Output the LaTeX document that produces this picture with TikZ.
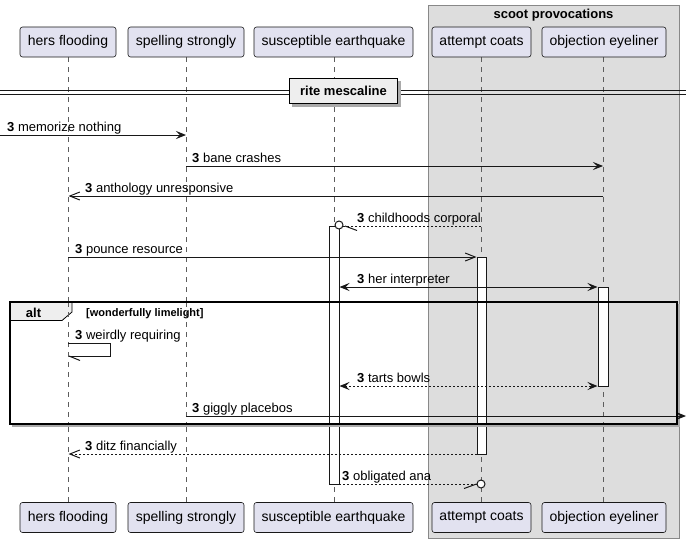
\documentclass[tikz,border=0pt]{standalone}
\usepackage{fontspec}
\setmainfont{Liberation Sans}
\usetikzlibrary{arrows.meta}
\definecolor{partfill}{HTML}{E2E2F0}
\definecolor{ink}{HTML}{181818}
\definecolor{grpfill}{HTML}{DDDDDD}
\definecolor{grpline}{HTML}{888888}
\definecolor{tabfill}{HTML}{EEEEEE}
\definecolor{shadowc}{HTML}{AAAAAA}
\tikzset{
  part/.style={draw=ink, fill=partfill, rounded corners=2.5pt, line width=0.6pt,
    minimum height=30pt, inner sep=0pt, font=\fontsize{14}{16}\selectfont},
  life/.style={draw=ink!70, line width=0.6pt, dash pattern=on 5pt off 5pt},
  actbar/.style={draw=ink, fill=white, line width=1pt},
  msg/.style={draw=ink, line width=1pt},
  dmsg/.style={draw=ink, line width=1pt, dash pattern=on 2pt off 2pt},
  fhead/.style={-{Stealth[length=10pt,width=8pt,inset=4pt]}},
  fboth/.style={{Stealth[length=10pt,width=8pt,inset=4pt]}-{Stealth[length=10pt,width=8pt,inset=4pt]}},
  ohead/.style={-{Straight Barb[length=10pt,width=8pt,line width=1pt]}},
  lbl/.style={anchor=base west, inner sep=0pt, font=\fontsize{13}{15}\selectfont},
}
\newcommand{\ml}[1]{\textbf{3} #1}
\begin{document}
\begin{tikzpicture}[x=1pt,y=-1pt]
\useasboundingbox (0,0) rectangle (692,543);
% group box
\path[draw=grpline, fill=grpfill, line width=0.8pt] (428,5) rectangle (679,538);
\node[font=\bfseries\fontsize{13}{15}\selectfont, anchor=base] (gtitle) at (553.5,19) {scoot provocations};
% lifeline coordinates
\coordinate (Ax) at (68,0);
\coordinate (Bx) at (186,0);
\coordinate (Cx) at (334,0);
\coordinate (Dx) at (481,0);
\coordinate (Ex) at (603,0);
% lifelines
\foreach \n/\x in {A/68,B/186,C/334,D/481,E/603}{
  \coordinate (\n top) at (\x,57);
  \coordinate (\n bot) at (\x,502);
  \draw[life] (\n top) -- (\n bot);
}
% participants
\node[part, minimum width=96pt] (Ah) at (68,42) {hers flooding};
\node[part, minimum width=116pt] (Bh) at (186,42) {spelling strongly};
\node[part, minimum width=159pt] (Ch) at (333.5,42) {susceptible earthquake};
\node[part, minimum width=99pt] (Dh) at (481.5,42) {attempt coats};
\node[part, minimum width=124pt] (Eh) at (604,42) {objection eyeliner};
\node[part, minimum width=96pt] (Af) at (68,517.5) {hers flooding};
\node[part, minimum width=116pt] (Bf) at (186,517.5) {spelling strongly};
\node[part, minimum width=159pt] (Cf) at (333.5,517.5) {susceptible earthquake};
\node[part, minimum width=99pt] (Df) at (481.5,517.5) {attempt coats};
\node[part, minimum width=124pt] (Ef) at (604,517.5) {objection eyeliner};
% divider
\coordinate (dvL) at (0,92);
\coordinate (dvR) at (686,92);
\draw[ink, line width=1pt] (0,90) -- (289,90) (0,94) -- (289,94);
\draw[ink, line width=1pt] (398,90) -- (686,90) (398,94) -- (686,94);
\fill[shadowc] (292,81) rectangle (401,107);
\node[draw=black, fill=tabfill, line width=1.6pt, minimum width=108pt, minimum height=25pt, inner sep=0pt,
  font=\bfseries\fontsize{13}{15}\selectfont] (div) at (343.5,91) {rite mescaline};
% activation bars
\draw[actbar] (329,226) rectangle (339,484);
\draw[actbar] (477,257) rectangle (486,454);
\draw[actbar] (598,287) rectangle (608,386);
% messages
\coordinate (m1s) at (0,135); \coordinate (m1e) at (186,135);
\draw[msg, fhead] (m1s) -- (m1e);
\node[lbl] (l1) at (7,131) {\ml{memorize nothing}};

\coordinate (m2s) at (186,166); \coordinate (m2e) at (603,166);
\draw[msg, fhead] (m2s) -- (m2e);
\node[lbl] (l2) at (192,162) {\ml{bane crashes}};

\coordinate (m3s) at (603,196); \coordinate (m3e) at (68.5,196);
\draw[msg, ohead] (m3s) -- (m3e);
\node[lbl] (l3) at (85,192) {\ml{anthology unresponsive}};

\coordinate (m4s) at (481,226); \coordinate (m4e) at (343,226);
\draw[dmsg] (m4s) -- (m4e);
\draw[ink, line width=1pt, fill=white] (339,225) circle (4pt);
\draw[ink, line width=1pt] (345,226) -- (357,230.5);
\node[lbl] (l4) at (357,222) {\ml{childhoods corporal}};

\coordinate (m5s) at (68,257); \coordinate (m5e) at (476.5,257);
\draw[msg, ohead] (m5s) -- (m5e);
\node[lbl] (l5) at (75,253) {\ml{pounce resource}};

\coordinate (m6s) at (339.5,287); \coordinate (m6e) at (597.5,287);
\draw[msg, fboth] (m6s) -- (m6e);
\node[lbl] (l6) at (357,283) {\ml{her interpreter}};

% alt frame
\fill[shadowc] (12,304) rectangle (680,427);
\fill[white] (12,304) rectangle (677,424);
\path[fill=tabfill] (10,302) -- (72,302) -- (72,312) -- (62,320.5) -- (10,320.5) -- cycle;
\draw[black, line width=0.8pt] (72,302) -- (72,312) -- (62,320.5) -- (10,320.5);
\node[anchor=base, inner sep=0pt, font=\bfseries\fontsize{13}{15}\selectfont] (altl) at (33.5,317) {alt};
\node[anchor=base west, inner sep=0pt, font=\bfseries\fontsize{11}{13}\selectfont] (guard) at (86,316) {[wonderfully limelight]};

% redraw lifelines and bars inside frame area (frame background is white)
\foreach \x in {68,186,334,603}{
  \draw[life] (\x,302) -- (\x,424);
}
\draw[life] (481,302) -- (481,424);
\fill[grpfill] (428,302) rectangle (677,424);
\draw[life] (481,302) -- (481,424);
\draw[life] (603,302) -- (603,424);
\draw[grpline, line width=0.8pt] (428,302) -- (428,424);
\draw[actbar] (329,302) rectangle (339,424);
\draw[actbar] (477,302) rectangle (486,424);
\draw[actbar] (598,302) rectangle (608,386);
\draw[ink, line width=1pt] (598,302) -- (598,386) (608,302) -- (608,386);

\coordinate (m7s) at (68,343); \coordinate (m7e) at (69,356);
\draw[msg] (m7s) -- (110,343) -- (110,356) -- (m7e);
\draw[ink, line width=1pt] (69,356) -- (80,360.5);
\node[lbl] (l7) at (75,339) {\ml{weirdly requiring}};

\coordinate (m8s) at (339.5,386); \coordinate (m8e) at (597.5,386);
\draw[dmsg, fboth] (m8s) -- (m8e);
\node[lbl] (l8) at (357,382) {\ml{tarts bowls}};

\coordinate (m9s) at (186,416); \coordinate (m9e) at (686,416);
\draw[msg, fhead] (m9s) -- (m9e);
\node[lbl] (l9) at (192,412) {\ml{giggly placebos}};

\draw[black, line width=1.6pt] (10,302) rectangle (677,424);

\coordinate (m10s) at (477,454); \coordinate (m10e) at (68.5,454);
\draw[dmsg, ohead] (m10s) -- (m10e);
\node[lbl] (l10) at (85,450) {\ml{ditz financially}};
\draw[ink, line width=1pt] (329,440) -- (329,484) (339,440) -- (339,484);

\coordinate (m11s) at (339,484); \coordinate (m11e) at (477,484);
\draw[dmsg] (m11s) -- (m11e);
\draw[ink, line width=1pt, fill=white] (481,484) circle (4pt);
\draw[ink, line width=1pt] (476.5,484) -- (464,488.5);
\node[lbl] (l11) at (342,480) {\ml{obligated ana}};
\end{tikzpicture}
\end{document}
